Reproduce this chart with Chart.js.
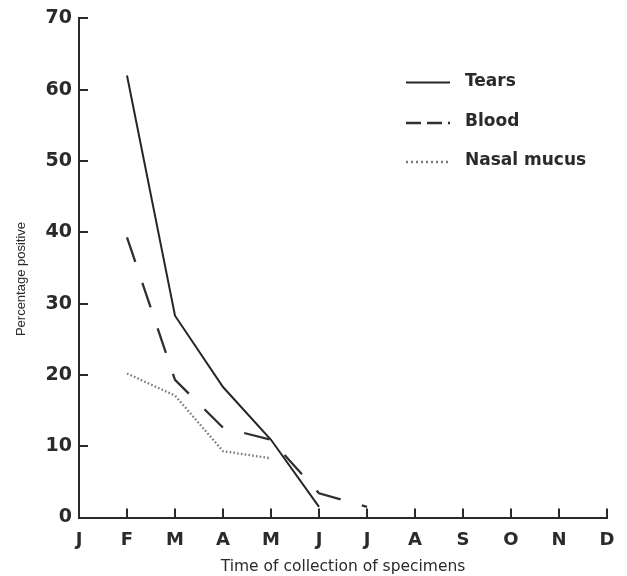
<!DOCTYPE html>
<html>
<head>
<meta charset="utf-8">
<script src="https://cdn.jsdelivr.net/npm/chart.js@4/dist/chart.umd.min.js"></script>
<style>
  html, body { margin: 0; padding: 0; background: #ffffff; }
  #wrap { width: 627px; height: 576px; }
</style>
</head>
<body>
<div id="wrap"><canvas id="c" width="627" height="576"></canvas></div>
<script>
// ---- data ----
const months = ['J', 'F', 'M', 'A', 'M', 'J', 'J', 'A', 'S', 'O', 'N', 'D'];
const tears = [null, 62, 28.3, 18.3, 10.9, 1.5, null, null, null, null, null, null];
const blood = [null, 39.3, 19.3, 12.6, 10.9, 3.4, 1.5, null, null, null, null, null];
const nasalMucus = [null, 20.2, 17.1, 9.3, 8.3, null, null, null, null, null, null, null];
const seriesNames = ['Tears', 'Blood', 'Nasal mucus'];
const yTicks = [0, 10, 20, 30, 40, 50, 60, 70];
const xTitle = 'Time of collection of specimens';
const yTitle = 'Percentage positive';

const INK = '#2a2a2a';
const SANS = '"Liberation Sans", Arial, Helvetica, sans-serif';
const WIDE = '"DejaVu Sans", Verdana, sans-serif';

const inwardTicks = {
  id: 'inwardTicks',
  afterDraw(chart) {
    const ctx = chart.ctx;
    const x = chart.scales.x, y = chart.scales.y;
    const area = chart.chartArea;
    ctx.save();
    ctx.strokeStyle = INK;
    ctx.lineWidth = 2;
    ctx.beginPath();
    y.ticks.forEach((t) => {
      if (t.value === 0) return;
      const py = Math.round(y.getPixelForValue(t.value));
      ctx.moveTo(area.left, py);
      ctx.lineTo(area.left + 9, py);
    });
    x.ticks.forEach((t, i) => {
      if (i === 0) return;
      const px = Math.round(x.getPixelForTick(i));
      ctx.moveTo(px, area.bottom);
      ctx.lineTo(px, area.bottom - 9);
    });
    ctx.stroke();
    // y axis title, placed a little below the axis centre as in the reference
    ctx.save();
    ctx.translate(21, 279);
    ctx.rotate(-Math.PI / 2);
    ctx.fillStyle = INK;
    ctx.font = '13px ' + SANS;
    ctx.textAlign = 'center';
    ctx.textBaseline = 'middle';
    ctx.fillText(yTitle, 0, 0);
    ctx.restore();
    ctx.restore();
  }
};

const customLegend = {
  id: 'customLegend',
  afterDraw(chart) {
    const ctx = chart.ctx;
    const rows = [79.5, 120, 159];
    const legendDash = [[], [15, 6], [2, 3]];
    ctx.save();
    chart.data.datasets.forEach((ds, i) => {
      const yy = rows[i];
      ctx.beginPath();
      ctx.strokeStyle = ds.borderColor;
      ctx.lineWidth = ds.borderWidth;
      ctx.setLineDash(legendDash[i]);
      ctx.moveTo(406, yy + 3);
      ctx.lineTo(450, yy + 3);
      ctx.stroke();
      ctx.setLineDash([]);
      ctx.fillStyle = INK;
      ctx.font = 'bold 17px ' + WIDE;
      ctx.textBaseline = 'alphabetic';
      ctx.textAlign = 'left';
      ctx.fillText(ds.label, 465, yy + 6.2);
    });
    ctx.restore();
  }
};

new Chart(document.getElementById('c'), {
  type: 'line',
  data: {
    labels: months,
    datasets: [
      { label: seriesNames[0], data: tears, borderColor: '#262626', borderWidth: 2, pointRadius: 0, tension: 0 },
      { label: seriesNames[1], data: blood, borderColor: '#303030', borderWidth: 2.3, borderDash: [26, 22], pointRadius: 0, tension: 0 },
      { label: seriesNames[2], data: nasalMucus, borderColor: '#7a7a7a', borderWidth: 2.3, borderDash: [1.6, 2.2], pointRadius: 0, tension: 0 }
    ]
  },
  options: {
    responsive: false,
    animation: false,
    devicePixelRatio: 1,
    layout: { padding: { top: 16.5, right: 18, left: 0, bottom: 0 } },
    plugins: { legend: { display: false }, tooltip: { enabled: false } },
    scales: {
      x: {
        type: 'category',
        offset: false,
        grid: { display: false, drawTicks: false },
        border: { display: true, color: INK, width: 2 },
        ticks: { color: INK, font: { family: WIDE, size: 18, weight: 'bold' }, padding: 12.5, maxRotation: 0, autoSkip: false },
        title: { display: true, text: xTitle, color: INK, font: { family: WIDE, size: 15.5 }, padding: { top: 0, bottom: 0 } },
        afterFit(s) { s.height = 58.5; }
      },
      y: {
        min: 0, max: 70,
        afterBuildTicks(s) { s.ticks = yTicks.map(v => ({ value: v })); },
        grid: { display: false, drawTicks: false },
        border: { display: true, color: INK, width: 2 },
        ticks: { color: INK, font: { family: WIDE, size: 19, weight: 'bold' }, padding: 7 },
        title: { display: false },
        afterFit(s) { s.width = 79; }
      }
    }
  },
  plugins: [inwardTicks, customLegend]
});
</script>
</body>
</html>
